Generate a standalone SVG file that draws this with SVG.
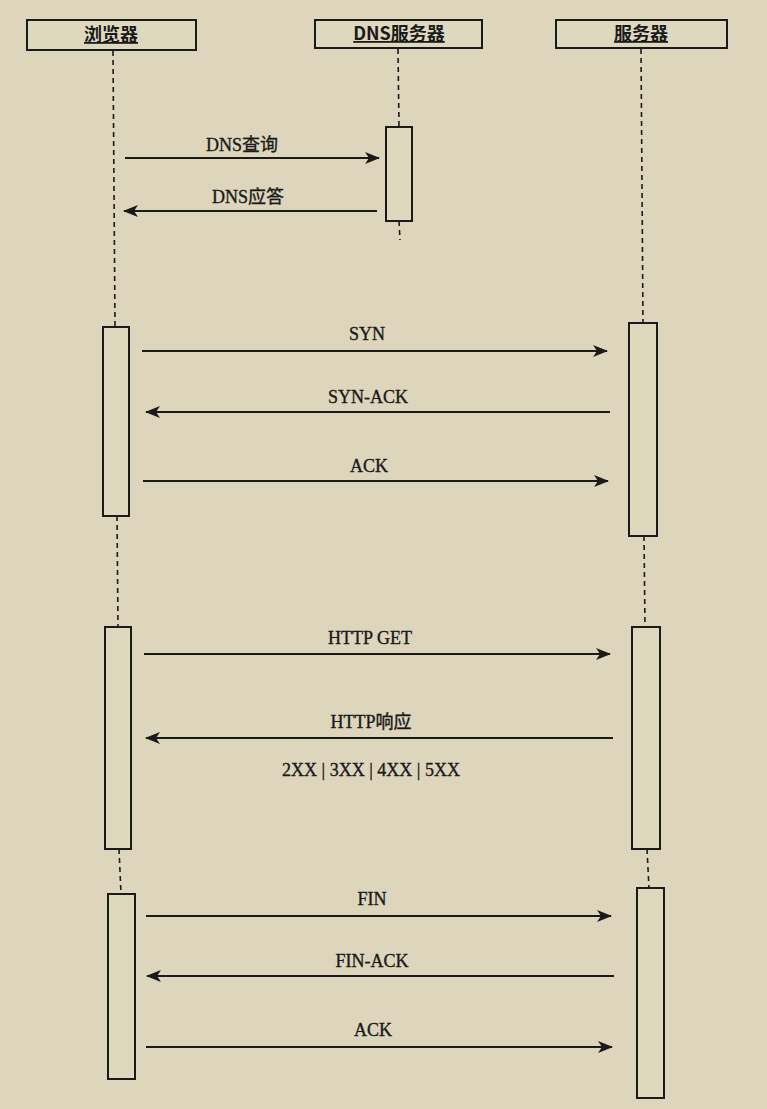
<svg xmlns="http://www.w3.org/2000/svg" width="767" height="1109" viewBox="0 0 767 1109">
<defs>
<marker id="ah" markerWidth="15" markerHeight="12" viewBox="0 0 15 12" refX="14" refY="6" orient="auto" markerUnits="userSpaceOnUse">
<path d="M0,0 L15,6 L0,12 L4,6 Z" fill="#1a1a1a"/>
</marker>
<style>
.bg{fill:#ddd6bc}
.head{fill:#ded8be;stroke:#1a1a1a;stroke-width:2}
.htxt{font-family:"Noto Sans CJK SC","Liberation Sans",sans-serif;font-weight:bold;font-size:18px;fill:#1a1a1a;text-anchor:middle;text-decoration:underline}
.act{fill:#ded8be;stroke:#1a1a1a;stroke-width:2}
.life{stroke:#1a1a1a;stroke-width:1.6;stroke-dasharray:5,4;fill:none}
.msg{stroke:#1a1a1a;stroke-width:1.8;fill:none;marker-end:url(#ah)}
.lbl{font-family:"Liberation Serif","Noto Sans CJK SC",serif;font-size:18px;fill:#1a1a1a;stroke:#1a1a1a;stroke-width:0.35;text-anchor:middle}
</style>
</defs>
<rect class="bg" x="0" y="0" width="767" height="1109"/>
<g id="lifelines">
<line class="life" x1="113" y1="51" x2="115" y2="327"/>
<line class="life" x1="117" y1="516" x2="118" y2="627"/>
<line class="life" x1="119" y1="849" x2="121" y2="894"/>
<line class="life" x1="398" y1="49" x2="399" y2="127"/>
<line class="life" x1="399" y1="221" x2="400" y2="240"/>
<line class="life" x1="641" y1="49" x2="643" y2="323"/>
<line class="life" x1="644" y1="536" x2="645" y2="627"/>
<line class="life" x1="647" y1="849" x2="649" y2="888"/>
</g>
<g id="browser"><rect class="head" x="27" y="20" width="169" height="30"/><text class="htxt" x="111" y="41">浏览器</text></g>
<g id="dns"><rect class="head" x="315" y="20" width="167" height="28"/><text class="htxt" x="399" y="40">DNS服务器</text></g>
<g id="server"><rect class="head" x="556" y="20" width="171" height="28"/><text class="htxt" x="641" y="40">服务器</text></g>
<g id="activations">
<rect id="dns-act" class="act" x="386" y="127" width="26" height="94"/>
<rect id="browser-act1" class="act" x="103" y="327" width="26" height="189"/>
<rect id="server-act1" class="act" x="629" y="323" width="28" height="213"/>
<rect id="browser-act2" class="act" x="105" y="627" width="26" height="222"/>
<rect id="server-act2" class="act" x="632" y="627" width="28" height="222"/>
<rect id="browser-act3" class="act" x="108" y="894" width="27" height="185"/>
<rect id="server-act3" class="act" x="637" y="888" width="27" height="210"/>
</g>
<g id="connectors">
<line class="msg" x1="125" y1="158" x2="379" y2="158"/>
<line class="msg" x1="377" y1="211" x2="124" y2="211"/>
<line class="msg" x1="142" y1="351" x2="607" y2="351"/>
<line class="msg" x1="610" y1="412" x2="146" y2="412"/>
<line class="msg" x1="143" y1="481" x2="608" y2="481"/>
<line class="msg" x1="144" y1="654" x2="610" y2="654"/>
<line class="msg" x1="613" y1="738" x2="146" y2="738"/>
<line class="msg" x1="146" y1="916" x2="611" y2="916"/>
<line class="msg" x1="614" y1="976" x2="147" y2="976"/>
<line class="msg" x1="146" y1="1047" x2="612" y2="1047"/>
</g>
<g id="labels">
<text class="lbl" x="242" y="151">DNS查询</text>
<text class="lbl" x="248" y="203">DNS应答</text>
<text class="lbl" x="367" y="340">SYN</text>
<text class="lbl" x="368" y="403">SYN-ACK</text>
<text class="lbl" x="369" y="472">ACK</text>
<text class="lbl" x="370" y="644">HTTP GET</text>
<text class="lbl" x="371" y="728">HTTP响应</text>
<text class="lbl" x="371" y="776">2XX | 3XX | 4XX | 5XX</text>
<text class="lbl" x="372" y="905">FIN</text>
<text class="lbl" x="372" y="967">FIN-ACK</text>
<text class="lbl" x="373" y="1036">ACK</text>
</g>
</svg>
